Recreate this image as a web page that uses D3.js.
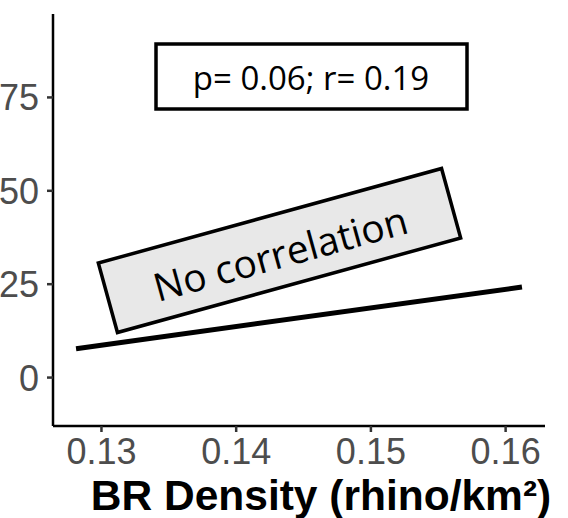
<!DOCTYPE html>
<html>
<head>
<meta charset="utf-8">
<script src="https://cdn.jsdelivr.net/npm/d3@7"></script>
<style>
  html, body { margin: 0; padding: 0; background: #fff; }
  svg { display: block; }
</style>
</head>
<body>
<svg id="chart" width="568" height="518"></svg>
<script>
// Fitted regression line of response vs. BR density
const trendX = [0.12815, 0.16125];
const trendY = [7.6, 24.1];

// Axis ticks
const xTicks = [0.13, 0.14, 0.15, 0.16];
const yTicks = [0, 25, 50, 75];

// Axis domains (ggplot-style expanded ranges)
const xDomain = [0.12644, 0.16296];
const yDomain = [-13.1, 97.2];

// Annotation texts
const statsLabel = "p= 0.06; r= 0.19";
const noteLabel = "No correlation";
const xTitle = "BR Density (rhino/km²)";

const svg = d3.select("#chart");
const panel = { left: 53, right: 545, top: 14, bottom: 426 };

const x = d3.scaleLinear().domain(xDomain).range([panel.left, panel.right]);
const y = d3.scaleLinear().domain(yDomain).range([panel.bottom, panel.top]);

const tickFont = "'Liberation Sans', Arial, sans-serif";

// Y axis
const yAxis = svg.append("g")
  .attr("transform", `translate(${panel.left},0)`)
  .call(d3.axisLeft(y).tickValues(yTicks).tickSize(6).tickPadding(8).tickFormat(d3.format("d")));
yAxis.select(".domain").attr("d", `M0,${panel.top}V${panel.bottom}`)
  .attr("stroke", "#000").attr("stroke-width", 2.5);
yAxis.selectAll(".tick line").attr("stroke", "#333").attr("stroke-width", 2.5);
yAxis.selectAll(".tick text")
  .attr("fill", "#4d4d4d").style("font-family", tickFont).style("font-size", "36px")
  .attr("dy", "0.36em");

// X axis
const xAxis = svg.append("g")
  .attr("transform", `translate(0,${panel.bottom})`)
  .call(d3.axisBottom(x).tickValues(xTicks).tickSize(6).tickPadding(6).tickFormat(d3.format(".2f")));
xAxis.select(".domain").attr("d", `M${panel.left},0H${panel.right}`)
  .attr("stroke", "#000").attr("stroke-width", 2.5);
xAxis.selectAll(".tick line").attr("stroke", "#333").attr("stroke-width", 2.5);
xAxis.selectAll(".tick text")
  .attr("fill", "#4d4d4d").style("font-family", tickFont).style("font-size", "36px")
  .attr("dy", "0.72em");

// X axis title
svg.append("text")
  .attr("x", 321).attr("y", 510)
  .attr("text-anchor", "middle")
  .style("font-family", tickFont).style("font-weight", "bold").style("font-size", "42.5px")
  .attr("fill", "#000")
  .text(xTitle);

// Regression line
const line = d3.line().x(d => x(d[0])).y(d => y(d[1]));
svg.append("path")
  .datum(d3.zip(trendX, trendY))
  .attr("d", line)
  .attr("fill", "none").attr("stroke", "#000").attr("stroke-width", 5);

// Statistics box
const annoFont = "'Open Sans', 'Noto Sans', sans-serif";
svg.append("rect")
  .attr("x", 156).attr("y", 44).attr("width", 311).attr("height", 65)
  .attr("fill", "#fff").attr("stroke", "#000").attr("stroke-width", 3.5);
svg.append("text")
  .attr("x", 311).attr("y", 77)
  .attr("text-anchor", "middle").attr("dominant-baseline", "central")
  .style("font-family", annoFont).style("font-size", "33px")
  .attr("fill", "#000")
  .text(statsLabel);

// Tilted note
const note = svg.append("g").attr("transform", "translate(279.5,250.5) rotate(-15.4)");
note.append("rect")
  .attr("x", -178).attr("y", -36).attr("width", 356).attr("height", 72)
  .attr("fill", "#e8e8e8").attr("stroke", "#000").attr("stroke-width", 3.5);
note.append("text")
  .attr("x", 0).attr("y", 2)
  .attr("text-anchor", "middle").attr("dominant-baseline", "central")
  .style("font-family", annoFont).style("font-size", "39px")
  .attr("fill", "#000")
  .text(noteLabel);
</script>
</body>
</html>
